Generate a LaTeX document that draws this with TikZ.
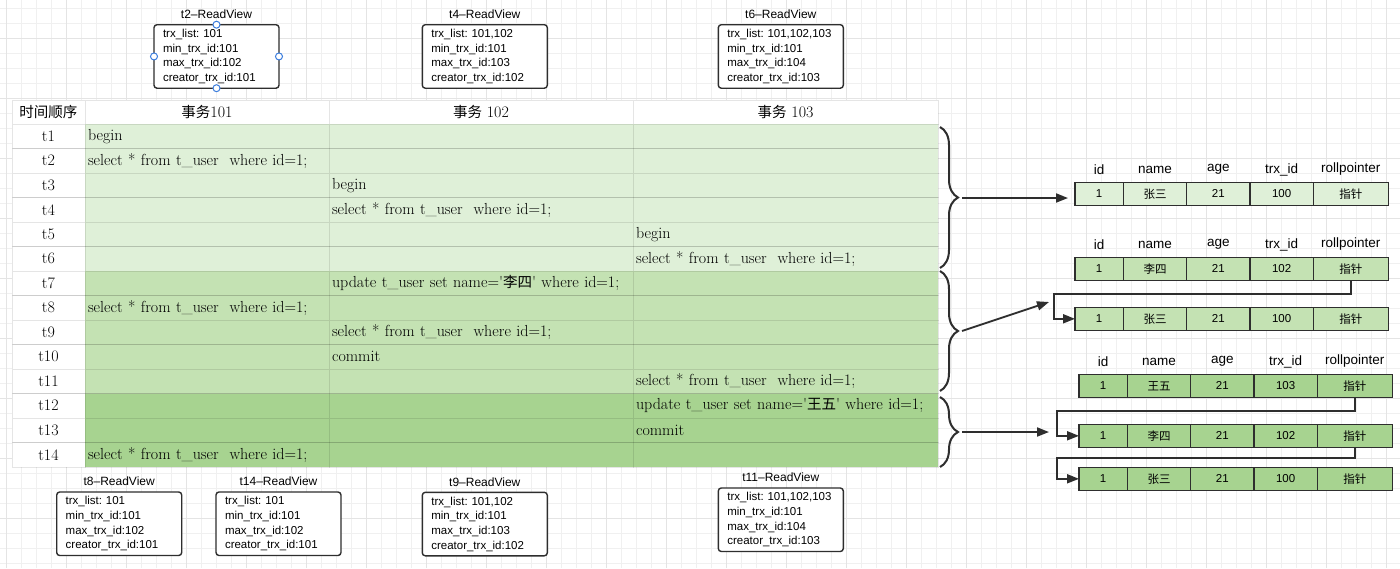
\documentclass[tikz,border=0pt]{standalone}
\usepackage{fontspec}
\setsansfont{Liberation Sans}
\newfontfamily\cjk{Noto Sans CJK SC}
\usetikzlibrary{arrows.meta,calc,decorations.pathreplacing}
\frenchspacing
\definecolor{gA}{HTML}{DFF0D8}
\definecolor{gB}{HTML}{C4E2B3}
\definecolor{gC}{HTML}{A7D390}
\definecolor{ink}{HTML}{2E2E2E}
\definecolor{handlec}{HTML}{3B7DDD}
\definecolor{gridc}{HTML}{F0F0F0}
\definecolor{gridm}{HTML}{E4E4E4}
\newcommand\qsel{select * from t\_user\ \ where id=1;}
\newcommand\tcjk[1]{{\cjk\fontsize{14.5}{16}\selectfont #1}}
\newcommand\trow[5]{%
  \pgfmathsetmacro\rowy{124+(#1-1)*24.5}%
  \node[tcell,fill=white,minimum width=73] (tm#1) at (12,\rowy) {t#1};
  \node[tcell,fill=#2,text width=238,align=left] (ca#1) at (85,\rowy) {#3};
  \node[tcell,fill=#2,text width=298,align=left] (cb#1) at (329,\rowy) {#4};
  \node[tcell,fill=#2,text width=299,align=left] (cc#1) at (633,\rowy) {#5};
}
\newcommand\rv[8]{%
  \node[rvbox] (#1) at (#2,#3) {trx\_list: #5\\min\_trx\_id:#6\\max\_trx\_id:#7\\creator\_trx\_id:#8};
  \node[rvtitle] (#1-title) at ($(#1.north)+(0,-10.5)$) {#4};
}
\newcommand\rec[9]{%
  \node[rcell,fill=#4,minimum width=48.3] (#1-1) at (#2,#3) {#5};
  \node[rcell,fill=#4,minimum width=63.4] (#1-2) at (#1-1.north east) {#6};
  \node[rcell,fill=#4,minimum width=63.3] (#1-3) at (#1-2.north east) {#7};
  \node[rcell,fill=#4,minimum width=63.3] (#1-4) at (#1-3.north east) {#8};
  \node[rcell,fill=#4,minimum width=75] (#1-5) at (#1-4.north east) {#9};
}
\newcommand\rhead[1]{%
  \node[rhd] (#1-h1) at ($(#1-1.north)+(0,-12.8)$) {id};
  \node[rhd] (#1-h2) at ($(#1-2.north)+(0,-12.8)$) {name};
  \node[rhd] (#1-h3) at ($(#1-3.north)+(0,-12.8)$) {age};
  \node[rhd] (#1-h4) at ($(#1-4.north)+(0,-12.8)$) {trx\_id};
  \node[rhd] (#1-h5) at ($(#1-5.north)+(0,-12.8)$) {rollpointer};
}
\begin{document}
\begin{tikzpicture}[x=1pt,y=-1pt,
  tcell/.style={draw=black,draw opacity=0.1,line width=0.8pt,minimum height=24.5pt,
    inner xsep=3pt,inner ysep=0pt,outer sep=0pt,anchor=north west,
    font=\fontsize{16}{19}\selectfont},
  hcell/.style={tcell,fill=white,minimum height=24pt},
  rvbox/.style={draw=ink,line width=1.4pt,rounded corners=3pt,fill=white,
    minimum height=63.5pt,text width=107pt,inner xsep=9pt,inner ysep=0pt,outer sep=0pt,
    align=left,anchor=north west,font=\sffamily\fontsize{11.5}{14.7}\selectfont},
  rvtitle/.style={inner sep=0pt,font=\sffamily\fontsize{12}{14}\selectfont},
  rcell/.style={draw=ink,line width=1.4pt,minimum height=23pt,inner sep=0pt,outer sep=0pt,
    anchor=north west,font=\sffamily\fontsize{11.5}{13}\selectfont},
  rhd/.style={inner sep=0pt,font=\sffamily\fontsize{13.5}{15}\selectfont},
  conn/.style={draw=ink,line width=1.8pt,-{Triangle[length=12pt,width=9pt]}},
  cbrace/.style={draw=ink,line width=2pt,decorate,decoration={brace,amplitude=18pt}},
  handle/.style={circle,draw=handlec,fill=white,line width=1pt,minimum size=7pt,inner sep=0pt}
]
\useasboundingbox (0,0) rectangle (1400,568);
\fill[white] (0,0) rectangle (1400,568);
% background grid
\foreach \gx in {6.7,21.7,...,1400} \draw[gridc,line width=0.7pt] (\gx,0) -- (\gx,568);
\foreach \gy in {8.3,23.3,...,568} \draw[gridc,line width=0.7pt] (0,\gy) -- (1400,\gy);
\foreach \gx in {6.7,66.7,...,1400} \draw[gridm,line width=0.7pt] (\gx,0) -- (\gx,568);
\foreach \gy in {38.3,98.3,...,568} \draw[gridm,line width=0.7pt] (0,\gy) -- (1400,\gy);

% table header
\node[hcell,minimum width=73] (h0) at (12,100) {\tcjk{时间顺序}};
\node[hcell,minimum width=244] (h1) at (85,100) {\tcjk{事务}101};
\node[hcell,minimum width=304] (h2) at (329,100) {\tcjk{事务} 102};
\node[hcell,minimum width=305] (h3) at (633,100) {\tcjk{事务} 103};
% table rows
\trow{1}{gA}{begin}{}{}
\trow{2}{gA}{\qsel}{}{}
\trow{3}{gA}{}{begin}{}
\trow{4}{gA}{}{\qsel}{}
\trow{5}{gA}{}{}{begin}
\trow{6}{gA}{}{}{\qsel}
\trow{7}{gB}{}{update t\_user set name=\textquotesingle\tcjk{李四}\textquotesingle\ where id=1;}{}
\trow{8}{gB}{\qsel}{}{}
\trow{9}{gB}{}{\qsel}{}
\trow{10}{gB}{}{commit}{}
\trow{11}{gB}{}{}{\qsel}
\trow{12}{gC}{}{}{update t\_user set name=\textquotesingle\tcjk{王五}\textquotesingle\ where id=1;}
\trow{13}{gC}{}{}{commit}
\trow{14}{gC}{\qsel}{}{}

% read views
\rv{rv2}{154}{24.7}{t2–ReadView}{101}{101}{102}{101}
\rv{rv4}{422.3}{24.7}{t4–ReadView}{101,102}{101}{103}{102}
\rv{rv6}{718.3}{24.7}{t6–ReadView}{101,102,103}{101}{104}{103}
\rv{rv8}{56.7}{492}{t8–ReadView}{101}{101}{102}{101}
\rv{rv14}{216}{492}{t14–ReadView}{101}{101}{102}{101}
\rv{rv9}{422.3}{492.3}{t9–ReadView}{101,102}{101}{103}{102}
\rv{rv11}{718.3}{488}{t11–ReadView}{101,102,103}{101}{104}{103}
\node[handle] (hn) at (rv2.north) {};
\node[handle] (hs) at (rv2.south) {};
\node[handle] (hw) at (rv2.west) {};
\node[handle] (he) at (rv2.east) {};

% version records
\rec{r1}{1075}{182.3}{gA}{1}{{\cjk 张三}}{21}{100}{{\cjk 指针}}
\rhead{r1}
\rec{r2}{1075}{257.3}{gB}{1}{{\cjk 李四}}{21}{102}{{\cjk 指针}}
\rhead{r2}
\rec{r3}{1075}{307.3}{gB}{1}{{\cjk 张三}}{21}{100}{{\cjk 指针}}
\rec{r4}{1079}{374.3}{gC}{1}{{\cjk 王五}}{21}{103}{{\cjk 指针}}
\rhead{r4}
\rec{r5}{1079}{424.3}{gC}{1}{{\cjk 李四}}{21}{102}{{\cjk 指针}}
\rec{r6}{1079}{467.3}{gC}{1}{{\cjk 张三}}{21}{100}{{\cjk 指针}}

% roll pointer chains
\draw[conn] (r2-5.south) -- ++(0,13.3) -| ($(r3-1.west)+(-21,0)$) -- (r3-1.west);
\draw[conn] (r4-5.south) -- ++(0,13.3) -| ($(r5-1.west)+(-22.3,0)$) -- (r5-1.west);
\draw[conn] (r5-5.south) -- ++(0,10.4) -| ($(r6-1.west)+(-22.3,0)$) -- (r6-1.west);

% braces
\draw[cbrace] (940,127) -- (940,268);
\draw[cbrace] (940,271) -- (940,391);
\draw[cbrace] (940,397) -- (940,467);
\coordinate (b1t) at (962,198);
\coordinate (b2t) at (962,331);
\coordinate (b3t) at (962,432);
\coordinate (a2end) at (1049,302);
\coordinate (a3end) at (1049,432);
\draw[conn,shorten >=7pt] (b1t) -- (b1t -| r1-1.west);
\draw[conn] (b2t) -- (a2end);
\draw[conn] (b3t) -- (a3end);
\end{tikzpicture}
\end{document}
